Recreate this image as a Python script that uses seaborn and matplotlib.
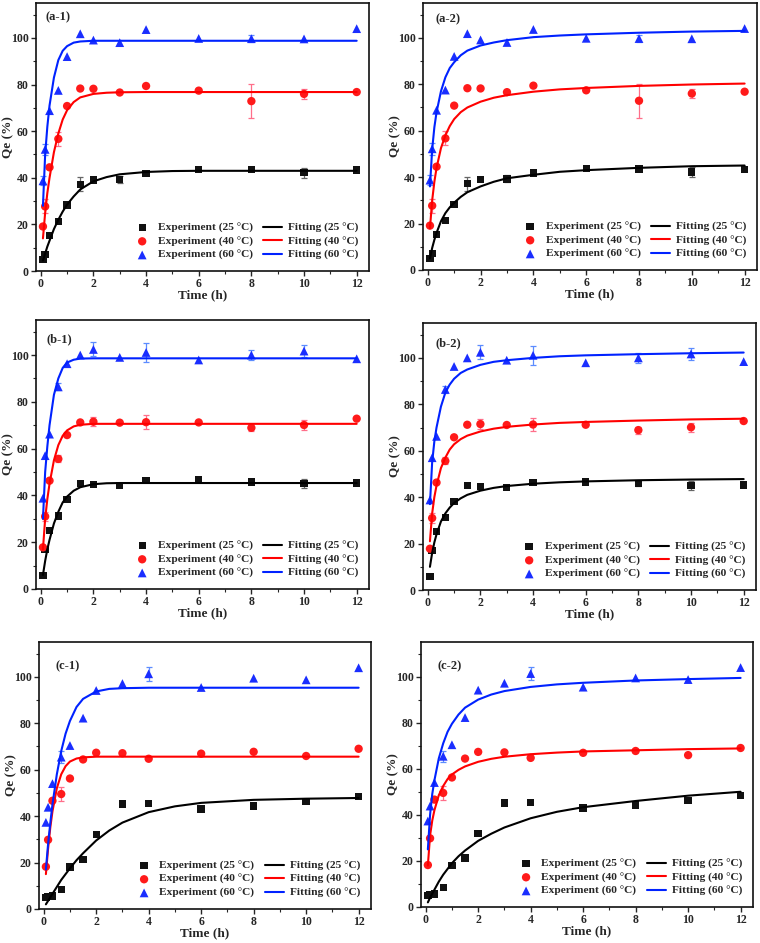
import numpy as np
import pandas as pd
import seaborn as sns
import matplotlib.pyplot as plt
from matplotlib.ticker import MultipleLocator

# sampling times (h)
time_h = [0.083, 0.167, 0.333, 0.667, 1, 1.5, 2, 3, 4, 6, 8, 10, 12]
temps = ["25", "40", "60"]

# experimental Qe (%) for (a), (b), (c)
exp_a_25 = [5.0, 7.0, 15.3, 21.3, 28.3, 37.2, 39.1, 39.2, 41.8, 43.7, 43.5, 42.2, 43.4]
exp_a_40 = [19.1, 27.7, 44.5, 56.7, 70.8, 78.3, 78.2, 76.6, 79.4, 77.4, 72.9, 76.0, 76.8]
exp_a_60 = [38.7, 52.2, 68.8, 77.5, 92.0, 101.8, 99.1, 98.0, 103.6, 99.8, 99.7, 99.6, 104.0]
exp_b_25 = [5.8, 16.9, 25.1, 31.2, 38.2, 45.0, 44.7, 44.3, 46.3, 46.6, 45.8, 45.1, 45.3]
exp_b_40 = [17.8, 31.0, 46.3, 55.6, 65.8, 71.2, 71.5, 71.1, 71.3, 71.2, 68.9, 70.1, 72.8]
exp_b_60 = [38.8, 57.0, 66.2, 86.4, 96.3, 100.0, 102.4, 99.0, 101.1, 97.9, 100.0, 101.7, 98.4]
exp_c_25 = [5.0, 5.4, 5.6, 8.5, 18.1, 21.2, 32.0, 45.2, 45.3, 43.0, 44.3, 46.3, 48.5]
exp_c_40 = [18.2, 29.8, 46.6, 49.5, 56.2, 64.4, 67.3, 67.1, 64.7, 66.9, 67.7, 65.9, 69.0]
exp_c_60 = [37.3, 43.8, 54.0, 65.4, 70.4, 82.2, 94.1, 97.1, 101.3, 95.4, 99.4, 98.7, 103.9]

# error bars
err_a_25 = [0, 0, 0, 0.8, 0, 3.0, 0, 1.5, 0, 0, 0, 2.2, 0]
err_a_40 = [0, 3.0, 0, 3.0, 0, 0, 0, 0, 0, 0, 7.3, 2.0, 0]
err_a_60 = [2.0, 2.5, 0, 0, 0, 0, 0, 0, 0, 0, 1.5, 0, 0]
err_b_25 = [0, 0, 0, 0, 0, 0, 0, 0, 0, 0, 1.0, 2.0, 0]
err_b_40 = [0, 2.0, 0, 1.5, 0, 0, 2.0, 0, 3.0, 0, 1.5, 2.0, 0]
err_b_60 = [0, 0, 0, 1.5, 0, 0, 3.0, 0, 4.0, 0, 2.0, 2.5, 0]
err_c_25 = [0, 0, 0, 0, 0, 0, 0, 0, 0, 0, 0, 0, 0]
err_c_40 = [0, 0, 0, 3.0, 0, 0, 0, 0, 0, 0, 0, 0, 0]
err_c_60 = [0, 0, 0, 2.5, 0, 0, 0, 0, 3.0, 0, 0, 0, 0]

# fitted curves
fit_time = [0.083, 0.167, 0.25, 0.333, 0.5, 0.667, 0.833, 1, 1.25, 1.5, 2, 2.5, 3, 4, 5, 6, 8, 10, 12]
fit_a1_25 = [4.5, 7.5, 10.5, 13, 18, 22, 25.5, 28.5, 32, 35, 38.5, 40.3, 41.5, 42.5, 42.9, 43, 43, 43, 43]
fit_a1_40 = [14, 25, 33.5, 40, 51, 59, 65, 69, 72.5, 74.5, 76, 76.5, 76.7, 76.8, 76.8, 76.8, 76.8, 76.8, 76.8]
fit_a1_60 = [28, 50, 62, 71, 83, 90.5, 94.5, 96.5, 98, 98.5, 98.8, 98.8, 98.8, 98.8, 98.8, 98.8, 98.8, 98.8, 98.8]
fit_a2_25 = [5, 9.5, 13, 16, 21, 24.5, 27, 29, 31.5, 33.5, 36, 38, 39.5, 41, 42.3, 43, 44, 44.7, 45]
fit_a2_40 = [18, 30, 38, 44, 52.5, 58, 62, 65, 68, 70, 72.5, 74.2, 75.3, 76.8, 77.8, 78.4, 79.3, 79.9, 80.3]
fit_a2_60 = [36, 52, 61.5, 68, 77, 83, 87, 89.5, 92.5, 94.5, 96.7, 98, 99, 100.3, 101, 101.5, 102.2, 102.7, 103]
fit_b1_25 = [6, 12, 17, 21, 28, 33, 37, 39.5, 42, 43.5, 44.8, 45.2, 45.3, 45.3, 45.3, 45.3, 45.3, 45.3, 45.3]
fit_b1_40 = [17, 30, 38.5, 45, 55, 61.5, 65.5, 67.8, 69.5, 70.2, 70.6, 70.6, 70.6, 70.6, 70.6, 70.6, 70.6, 70.6, 70.6]
fit_b1_60 = [30, 50, 61, 70, 83, 90, 94.5, 96.8, 98, 98.5, 98.6, 98.6, 98.6, 98.6, 98.6, 98.6, 98.6, 98.6, 98.6]
fit_b2_25 = [10, 16, 20.5, 24, 29.5, 33, 35.5, 37.5, 39.5, 41, 42.8, 44, 44.8, 45.8, 46.4, 46.8, 47.3, 47.6, 47.8]
fit_b2_40 = [21, 33, 40, 45, 52.5, 57, 60.5, 62.8, 65, 66.5, 68.3, 69.5, 70.3, 71.3, 72, 72.4, 73, 73.5, 73.8]
fit_b2_60 = [37, 55, 64, 70, 79, 85, 88.5, 91, 93.5, 95, 97, 98.3, 99, 100, 100.7, 101.1, 101.6, 102, 102.3]
fit_c1_25 = [2, 3.5, 5, 6.5, 9.5, 12.5, 15, 17.5, 21, 24, 29.5, 33.8, 37.2, 41.7, 44.2, 45.7, 47, 47.5, 47.8]
fit_c1_40 = [15, 26, 35, 42, 52, 58, 61.5, 63.5, 64.8, 65.3, 65.6, 65.6, 65.6, 65.6, 65.6, 65.6, 65.6, 65.6, 65.6]
fit_c1_60 = [17, 28, 37, 45, 58, 68, 75.5, 81, 87, 90.5, 93.7, 94.8, 95.1, 95.3, 95.3, 95.3, 95.3, 95.3, 95.3]
fit_c2_25 = [2, 4, 5.8, 7.5, 11, 14, 16.5, 19, 22, 24.5, 28.7, 31.8, 34.5, 38.5, 41.3, 43.3, 46, 48.3, 50]
fit_c2_40 = [18, 31, 37.5, 42, 48.5, 52.5, 55.5, 57.5, 59.5, 61, 63, 64.3, 65.2, 66.3, 67, 67.5, 68, 68.5, 68.8]
fit_c2_60 = [25, 40, 49, 55, 64.5, 71, 76, 79.5, 83.5, 86.5, 90, 92.2, 93.7, 95.5, 96.6, 97.3, 98.3, 98.9, 99.4]

panels = [
    ("(a-1)", [exp_a_25, exp_a_40, exp_a_60], [err_a_25, err_a_40, err_a_60], [fit_a1_25, fit_a1_40, fit_a1_60]),
    ("(a-2)", [exp_a_25, exp_a_40, exp_a_60], [err_a_25, err_a_40, err_a_60], [fit_a2_25, fit_a2_40, fit_a2_60]),
    ("(b-1)", [exp_b_25, exp_b_40, exp_b_60], [err_b_25, err_b_40, err_b_60], [fit_b1_25, fit_b1_40, fit_b1_60]),
    ("(b-2)", [exp_b_25, exp_b_40, exp_b_60], [err_b_25, err_b_40, err_b_60], [fit_b2_25, fit_b2_40, fit_b2_60]),
    ("(c-1)", [exp_c_25, exp_c_40, exp_c_60], [err_c_25, err_c_40, err_c_60], [fit_c1_25, fit_c1_40, fit_c1_60]),
    ("(c-2)", [exp_c_25, exp_c_40, exp_c_60], [err_c_25, err_c_40, err_c_60], [fit_c2_25, fit_c2_40, fit_c2_60]),
]

# layout (figure fractions) and styles
W, H = 760, 943
boxes = [
    [0.0474, 0.7126, 0.4382, 0.2842],
    [0.5566, 0.7137, 0.4395, 0.2831],
    [0.0474, 0.3754, 0.4382, 0.2853],
    [0.5566, 0.3743, 0.4382, 0.2831],
    [0.0513, 0.0361, 0.4368, 0.2831],
    [0.5539, 0.0382, 0.4368, 0.2810],
]
label_pos = [(0.028, 0.945), (0.036, 0.94), (0.03, 0.93), (0.036, 0.925), (0.05, 0.91), (0.05, 0.91)]
colors = ["#111111", "#ff1a1a", "#1a2eff"]
line_colors = ["#000000", "#ff0000", "#0022ff"]
err_colors = ["#666666", "#ff6f8a", "#5c8cff"]
markers = ["s", "o", "^"]
sizes = [28, 36, 40]

sns.set_style("ticks")
plt.rcParams["font.family"] = ["Liberation Serif", "DejaVu Serif"]
plt.rcParams["font.weight"] = "bold"
plt.rcParams["axes.labelweight"] = "bold"

fig = plt.figure(figsize=(W / 100, H / 100), dpi=100)

for (tag, exps, errs, fits), box, lp in zip(panels, boxes, label_pos):
    ax = fig.add_axes(box)
    for i, t in enumerate(temps):
        e = np.array(errs[i])
        m = e > 0
        ax.errorbar(np.array(time_h)[m], np.array(exps[i])[m], yerr=e[m], fmt="none",
                    ecolor=err_colors[i], elinewidth=0.9, capsize=2.5, capthick=0.9, zorder=2)
    for i, t in enumerate(temps):
        df = pd.DataFrame({"Time": time_h, "Qe": exps[i]})
        sns.scatterplot(data=df, x="Time", y="Qe", ax=ax, marker=markers[i], color=colors[i],
                        s=sizes[i], edgecolor="none", linewidth=0, zorder=3,
                        label=f"Experiment ({t} °C)")
    for i, t in enumerate(temps):
        df = pd.DataFrame({"Time": fit_time, "Qe": fits[i]})
        sns.lineplot(data=df, x="Time", y="Qe", ax=ax, color=line_colors[i], linewidth=1.5,
                     zorder=4, label=f"Fitting ({t} °C)")

    ax.set_xlim(-0.18, 12.47)
    ax.set_ylim(0, 115)
    ax.xaxis.set_major_locator(MultipleLocator(2))
    ax.xaxis.set_minor_locator(MultipleLocator(1))
    ax.yaxis.set_major_locator(MultipleLocator(20))
    ax.yaxis.set_minor_locator(MultipleLocator(10))
    ax.tick_params(which="major", direction="out", length=3.3, width=1.0, labelsize=8.5, pad=2)
    ax.tick_params(which="minor", direction="out", length=2, width=0.8)
    for sp in ax.spines.values():
        sp.set_linewidth(1.2)
        sp.set_color("#111111")
    ax.set_xlabel("Time (h)", fontsize=9.5, fontweight="bold")
    ax.set_ylabel("Qe (%)", fontsize=9.5, fontweight="bold")
    ax.yaxis.set_label_coords(-22 / (box[2] * W), 0.5)
    ax.xaxis.set_label_coords(0.5, -18 / (box[3] * H))
    ax.text(lp[0], lp[1], tag, transform=ax.transAxes, fontsize=9, fontweight="bold",
            va="center", ha="left")

    h, l = ax.get_legend_handles_labels()
    ax.legend(h, l, ncol=2, loc="lower right", bbox_to_anchor=(1.0, 0.0), frameon=False,
              prop={"size": 8.2, "weight": "bold"}, handlelength=1.7, handletextpad=0.5,
              columnspacing=0.9, labelspacing=0.3, borderaxespad=0.55)

fig.savefig("out.png", dpi=100)
